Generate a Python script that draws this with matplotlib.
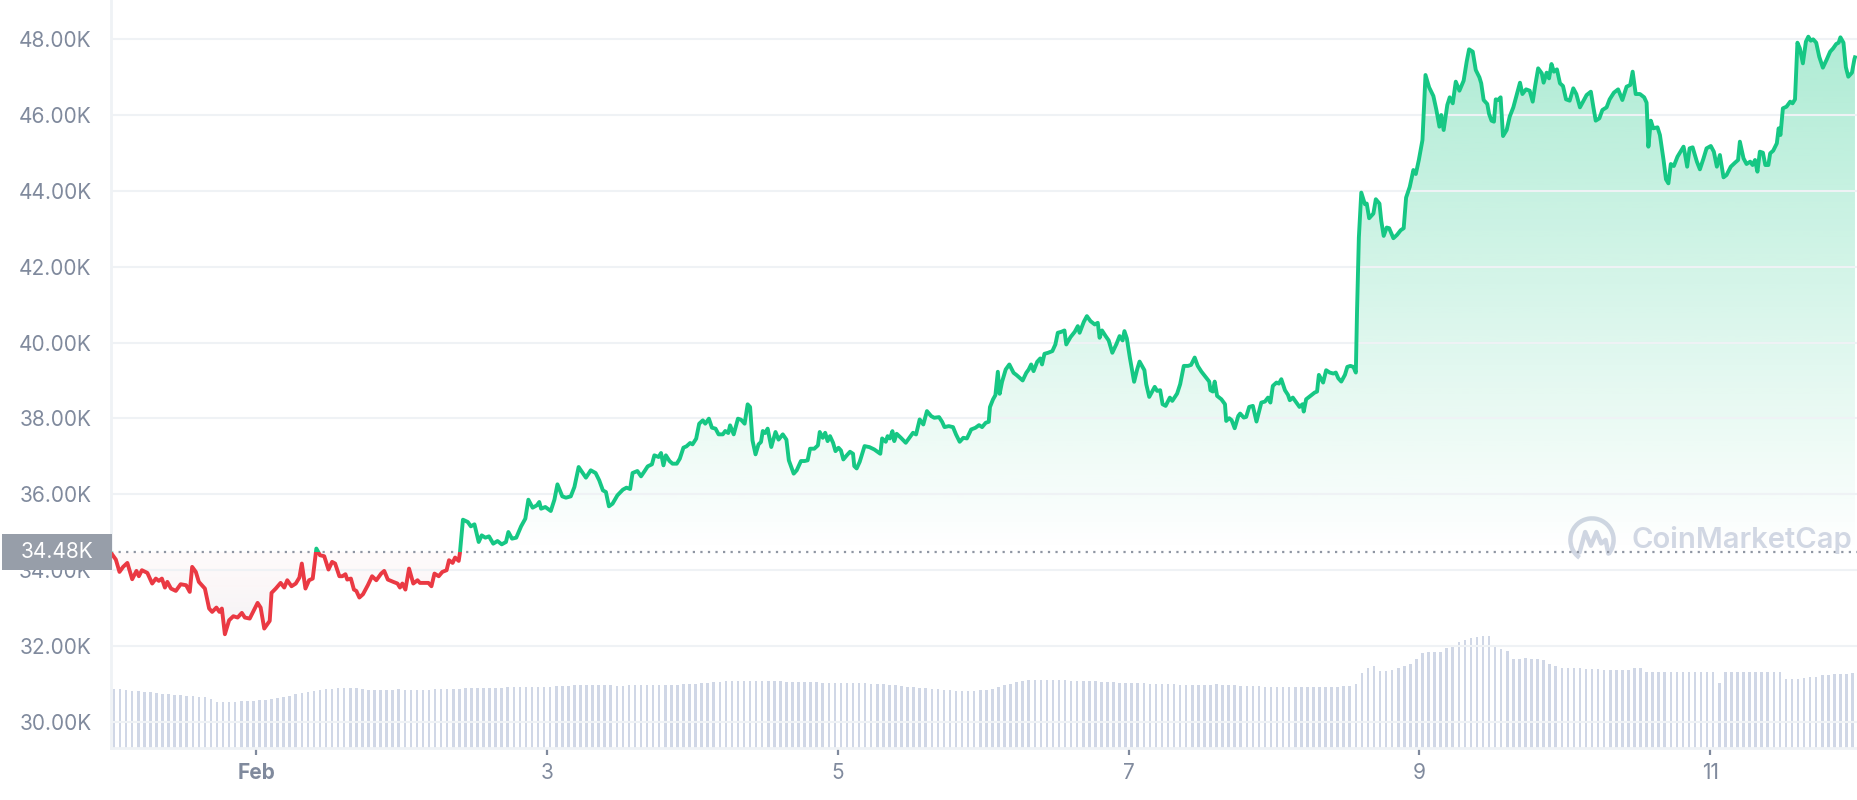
import numpy as np
import matplotlib.pyplot as plt
from matplotlib.path import Path
from matplotlib.patches import Rectangle, Arc

plt.rcParams['font.family'] = ['Inter', 'DejaVu Sans']

# price (USD) by hours since Jan 31 00:00
hours = [
    0.0, 0.8, 1.4, 2.0, 2.7, 3.5, 4.2, 4.6, 5.1, 6.0, 6.8, 7.4, 7.9, 8.4, 8.9, 9.3, 9.9, 10.7, 11.5, 12.4,
    13.0, 13.4, 14.0, 14.5, 15.5, 16.2, 16.7, 17.4, 17.9, 18.3, 18.8, 19.5, 20.2, 20.9, 21.6, 22.1, 22.9, 23.6, 24.2, 24.7,
    25.3, 26.2, 26.5, 27.2, 28.0, 28.6, 29.1, 29.8, 30.5, 31.1, 31.5, 32.1, 32.7, 33.3, 33.9, 34.5, 35.2, 35.9, 36.5, 37.0,
    37.7, 38.2, 38.7, 39.0, 39.6, 40.1, 40.5, 41.0, 41.6, 42.4, 43.1, 43.8, 44.6, 45.1, 45.7, 46.6, 47.3, 47.7, 48.1, 48.6,
    49.2, 49.9, 50.6, 51.0, 51.7, 52.4, 52.9, 53.4, 54.1, 54.7, 55.4, 55.8, 56.4, 56.8, 57.4, 57.6,
    58.1, 58.9, 59.4, 60.0, 60.7, 61.2, 61.8, 62.4, 63.1, 63.8, 64.5, 65.2, 65.6, 66.2, 66.9, 67.7, 68.4, 68.9, 69.6, 70.3,
    70.7, 71.0, 71.7, 72.6, 73.2, 73.7, 74.5, 75.1, 75.9, 76.5, 77.2, 78.4, 79.2, 80.0, 80.6, 81.2, 81.7, 82.2, 82.8, 83.6,
    84.5, 85.1, 85.7, 86.1, 86.9, 87.5, 88.1, 88.6, 89.3, 89.7, 90.4, 90.8, 91.2, 91.6, 92.2, 92.7, 93.4, 93.9, 94.5, 95.0,
    95.6, 96.0, 96.6, 97.1, 97.7, 98.1, 98.7, 99.2, 99.8, 100.3, 101.0, 101.4, 101.9, 102.2, 102.8, 103.5, 104.0, 104.6, 105.1, 105.5,
    105.9, 106.4, 106.9, 107.3, 107.6, 108.0, 108.4, 109.0, 109.7, 110.2, 110.9, 111.5, 111.9, 112.7, 113.2, 113.9, 114.5, 115.0, 115.4, 116.1,
    116.7, 117.0, 117.5, 117.9, 118.3, 118.7, 119.2, 119.6, 120.1, 120.5, 120.9, 121.5, 122.0, 122.5, 122.7, 123.1, 123.6, 124.4, 125.2, 126.0,
    127.0, 127.3, 127.9, 128.2, 128.6, 129.0, 129.3, 129.7, 130.4, 131.2, 131.8, 132.4, 132.9, 133.5, 134.1, 134.7, 135.4, 135.9, 136.7, 137.2,
    137.6, 138.3, 139.0, 139.5, 140.1, 140.7, 141.3, 142.0, 142.7, 143.3, 143.8, 144.4, 144.9, 145.1, 145.6, 146.0, 146.4, 146.7, 147.1, 147.7,
    148.3, 149.0, 149.5, 150.0, 150.5, 151.1, 151.5, 151.9, 152.3, 152.9, 153.4, 153.7, 154.1, 154.7, 155.4, 155.9, 156.3, 156.9, 157.4, 157.7,
    158.4, 159.1, 159.6, 159.9, 160.6, 161.1, 161.7, 162.4, 162.9, 163.2, 163.6, 164.2, 164.7, 165.3, 166.0, 166.5, 167.0, 167.3, 167.7, 168.2,
    168.9, 169.4, 169.8, 170.6, 170.9, 171.4, 172.3, 172.7, 173.2, 173.6, 174.1, 174.8, 175.2, 176.0, 176.5, 177.1, 177.8, 178.3, 178.9, 179.4,
    180.0, 180.7, 181.3, 181.5, 181.9, 182.2, 182.6, 183.3, 183.9, 184.1, 184.6, 185.0, 185.5, 186.1, 186.4, 187.0, 187.4, 187.9, 188.5, 189.1,
    189.9, 190.5, 191.0, 191.4, 191.8, 192.4, 192.8, 193.2, 193.8, 194.3, 194.6, 195.1, 195.8, 196.2, 196.7, 196.9, 197.3, 198.2, 198.7, 199.1,
    199.4, 200.1, 200.6, 201.2, 201.8, 202.2, 202.6, 203.1, 203.7, 204.1, 204.6, 205.1, 205.5, 205.7, 206.0, 206.4, 207.0, 207.3, 207.7, 208.4,
    208.8, 209.4, 209.7, 210.1, 210.6, 211.0, 211.7, 212.3, 212.9, 213.4, 213.8, 214.4, 215.0, 215.4, 215.9, 216.5, 217.0, 217.6, 218.3, 218.8,
    219.3, 219.6, 220.0, 220.6, 221.0, 221.5, 222.0, 222.6, 223.3, 223.8, 224.2, 224.8, 225.3, 225.9, 226.2, 226.6, 227.2, 227.5, 227.9, 228.3,
    228.6, 229.0, 229.4, 229.8, 230.4, 230.9, 231.5, 232.0, 232.6, 233.0, 233.6, 234.2, 234.7, 235.1, 235.6, 236.2, 236.5, 237.0, 237.4, 237.8,
    238.2, 238.7, 239.2, 239.7, 240.2, 240.8, 241.4, 241.9, 242.5, 243.0, 243.6, 244.3, 244.7, 245.1, 245.7, 246.2, 246.9, 247.4, 248.1, 248.8,
    249.5, 250.2, 250.8, 251.2, 251.7, 252.4, 253.1, 253.5, 253.8, 254.2, 254.6, 255.3, 255.7, 256.3, 256.7, 257.1, 257.5, 258.0, 258.6, 259.0,
    259.6, 259.8, 260.2, 260.6, 261.1, 261.8, 262.3, 262.9, 263.4, 264.1, 264.6, 265.1, 265.6, 266.2, 266.7, 267.4, 268.1, 268.6, 268.9, 269.5,
    270.0, 270.6, 271.0, 271.4, 271.8, 272.2, 272.7, 273.1, 273.6, 273.9, 274.4, 275.0, 275.3, 275.6, 276.0, 276.6, 277.2, 277.6, 278.0, 278.4,
    278.8, 279.3, 279.8, 280.2, 280.6, 281.0, 281.5, 282.0, 282.6, 283.2, 283.8, 284.3, 284.8, 285.2, 285.5, 286.0, 286.4, 286.8, 287.4, 287.8,
    287.9,
]
prices = [
    34457, 34281, 33956, 34088, 34193, 33763, 33982, 33842, 34000, 33930, 33649, 33780, 33719, 33780, 33543, 33693, 33517, 33455, 33631, 33605,
    33429, 34088, 33956, 33693, 33517, 32990, 32902, 33016, 32902, 32990, 32313, 32682, 32788, 32753, 32876, 32753, 32726, 32946, 33139, 33016,
    32463, 32665, 33403, 33517, 33666, 33543, 33736, 33578, 33649, 33807, 34176, 33517, 33736, 33780, 34571, 34395, 34369, 34018, 34220, 34176,
    33842, 33842, 33895, 33754, 33780, 33490, 33455, 33280, 33367, 33605, 33842, 33736, 33912, 33982, 33754, 33693, 33649, 33543, 33649, 33490,
    34044, 33649, 33736, 33666, 33666, 33666, 33578, 33912, 33842, 33956, 34000, 34264, 34193, 34334, 34246, 34457,
    35332, 35271, 35157, 35210, 34744, 34919, 34858, 34893, 34700, 34770, 34682, 34744, 35007, 34832, 34858, 35157, 35359, 35859, 35649, 35710,
    35798, 35622, 35666, 35561, 35859, 36264, 35947, 35912, 35947, 36193, 36720, 36439, 36633, 36562, 36369, 36105, 36061, 35684, 35754, 35974,
    36123, 36176, 36141, 36562, 36615, 36474, 36615, 36738, 36791, 37028, 36984, 37089, 36764, 37028, 36878, 36808, 36808, 36940, 37230, 37265,
    37353, 37318, 37467, 37862, 37950, 37862, 37994, 37757, 37731, 37581, 37581, 37669, 37616, 37818, 37581, 37994, 37968, 37862, 38372, 38302,
    37423, 37054, 37318, 37379, 37669, 37616, 37731, 37247, 37643, 37441, 37581, 37441, 36896, 36545, 36633, 36878, 36878, 36896, 37203, 37203,
    37291, 37643, 37490, 37622, 37403, 37534, 37359, 37139, 37227, 37157, 36920, 37034, 37122, 37069, 36744, 36682, 36858, 37271, 37245, 37183,
    37069, 37473, 37385, 37534, 37473, 37666, 37403, 37596, 37490, 37359, 37490, 37622, 37578, 37974, 37842, 38193, 38061, 38018, 38035, 37912,
    37772, 37798, 37772, 37578, 37385, 37490, 37473, 37710, 37754, 37824, 37772, 37886, 37912, 38299, 38501, 38615, 39230, 38650, 38966, 39291,
    39423, 39203, 39142, 39072, 39001, 39203, 39291, 39423, 39247, 39493, 39581, 39423, 39704, 39731, 39775, 39950, 40258, 40284, 40319, 39950,
    40144, 40284, 40433, 40258, 40548, 40697, 40565, 40477, 40521, 40126, 40319, 40170, 40056, 39731, 39968, 40170, 40056, 40302, 40108, 39599,
    38966, 39291, 39499, 39271, 38902, 38568, 38832, 38726, 38744, 38375, 38331, 38550, 38463, 38656, 38902, 39385, 39385, 39411, 39605, 39385,
    39236, 39095, 38972, 38744, 38709, 38972, 38594, 38506, 38375, 37935, 38006, 37953, 37742, 38067, 38129, 38023, 38041, 38304, 38331, 37918,
    38419, 38445, 38550, 38419, 38858, 38946, 38919, 39034, 38744, 38621, 38480, 38550, 38392, 38304, 38375, 38181, 38506, 38621, 38682, 38709,
    39148, 38946, 39271, 39209, 39183, 39209, 39060, 38972, 39148, 39359, 39385, 39359, 39209, 40835, 42767, 43953, 43646, 43663, 43277, 43400,
    43777, 43663, 43207, 42811, 43031, 43014, 42750, 42838, 42960, 43014, 43821, 44103, 44547, 44442, 44811, 45338, 47051, 46726, 46498, 46129,
    45690, 45997, 45602, 46261, 46463, 46305, 46876, 46638, 46902, 47403, 47728, 47666, 47183, 46990, 46832, 46392, 46287, 46023, 45848, 45821,
    46410, 46392, 46463, 45443, 45602, 45953, 46199, 46498, 46849, 46550, 46673, 46638, 46348, 46761, 47227, 47095, 46849, 47113, 46963, 47341,
    47139, 47200, 46832, 46761, 46410, 46375, 46700, 46550, 46199, 46348, 46524, 46612, 46217, 45848, 45909, 46129, 46199, 46410, 46586, 46673,
    46392, 46744, 46788, 47139, 46550, 46550, 46463, 46322, 45162, 45848, 45646, 45672, 45470, 44811, 44302, 44196, 44706, 44653, 44899, 45004,
    45162, 45004, 44635, 45118, 45145, 44767, 44565, 44855, 45118, 45180, 45030, 44635, 44943, 44354, 44416, 44635, 44741, 44811, 45294, 44855,
    44706, 44767, 44679, 44811, 44504, 45030, 45004, 44679, 44679, 44987, 45057, 45250, 45646, 45470, 46173, 46217, 46348, 46305, 46410, 47903,
    47754, 47359, 47930, 48061, 47956, 47991, 47903, 47534, 47245, 47447, 47666, 47754, 47868, 47903, 48044, 47903, 47253, 47007, 47113, 47464,
    47517,
]

# hourly volume (USD bn), one bar per hour
volume = [
    22.1, 21.9, 21.7, 21.5, 21.3, 21.0, 20.8, 20.6, 20.4, 20.2, 20.0, 19.8, 19.6, 19.4, 19.2, 19.0, 18.2, 17.4, 17.3, 17.3, 17.4, 17.5, 17.6, 17.7,
    17.8, 18.0, 18.3, 18.7, 19.1, 19.6, 20.1, 20.5, 20.9, 21.3, 21.7, 22.0, 22.2, 22.4, 22.5, 22.6, 22.3, 22.0, 21.8, 21.7, 21.7, 21.8, 21.8, 21.9,
    21.8, 21.8, 21.7, 21.7, 21.8, 21.9, 22.0, 22.0, 22.1, 22.2, 22.4, 22.5, 22.6, 22.5, 22.3, 22.4, 22.6, 22.7, 22.8, 22.8, 22.9, 23.0, 22.8, 22.7,
    22.9, 23.1, 23.2, 23.3, 23.4, 23.5, 23.4, 23.4, 23.5, 23.6, 23.4, 23.3, 23.3, 23.4, 23.5, 23.5, 23.6, 23.6, 23.5, 23.5, 23.6, 23.7, 23.8, 23.9,
    24.0, 24.2, 24.4, 24.6, 24.8, 25.0, 25.1, 25.1, 25.2, 25.2, 25.1, 25.0, 25.0, 24.9, 24.9, 24.8, 24.8, 24.7, 24.7, 24.6, 24.6, 24.5, 24.5, 24.5,
    24.5, 24.4, 24.4, 24.3, 24.2, 24.1, 24.0, 23.8, 23.6, 23.4, 23.2, 23.0, 22.8, 22.6, 22.4, 22.2, 22.0, 21.8, 21.6, 21.5, 21.4, 21.4, 21.5, 21.6,
    21.8, 22.2, 22.8, 23.4, 24.0, 24.6, 25.0, 25.3, 25.5, 25.6, 25.6, 25.5, 25.4, 25.3, 25.2, 25.1, 25.0, 24.9, 24.9, 24.8, 24.7, 24.6, 24.5, 24.5,
    24.4, 24.3, 24.2, 24.1, 24.0, 23.9, 23.8, 23.8, 23.7, 23.7, 23.6, 23.6, 23.5, 23.6, 23.8, 23.7, 23.5, 23.4, 23.3, 23.2, 23.1, 23.1, 23.0, 23.0,
    22.9, 22.9, 22.8, 22.8, 22.7, 22.7, 22.8, 22.8, 22.9, 22.9, 23.0, 23.1, 23.2, 24.0, 28.0, 30.0, 30.7, 29.0, 28.9, 29.2, 30.0, 30.6, 31.5, 33.5,
    35.7, 36.0, 36.1, 36.1, 37.5, 38.5, 39.5, 40.5, 41.2, 41.7, 41.9, 42.0, 38.0, 37.0, 36.3, 33.5, 33.3, 33.6, 33.5, 33.2, 32.8, 31.5, 30.8, 30.0,
    29.8, 29.8, 29.8, 29.7, 29.6, 29.4, 29.2, 29.2, 29.2, 29.2, 29.3, 29.8, 29.8, 28.6, 28.6, 28.5, 28.6, 28.6, 28.6, 28.5, 28.5, 28.6, 28.6, 28.6,
    28.5, 24.3, 28.4, 28.5, 28.6, 28.4, 28.4, 28.6, 28.5, 28.3, 28.4, 28.3, 25.7, 25.8, 25.9, 26.2, 26.4, 26.6, 27.2, 27.5, 27.7, 27.8, 27.8, 28.0,
]

open_price = 34480
tick_hours = [24, 72, 120, 168, 216, 264]
tick_labels = ['Feb', '3', '5', '7', '9', '11']
y_ticks = [30000, 32000, 34000, 36000, 38000, 40000, 42000, 44000, 46000, 48000]

GREEN = '#16c784'
RED = '#ea3943'
GREY = '#808a9d'
GRID = '#eff2f5'

h = np.array(hours)
p = np.array(prices)
x_max = 288.4
y_lo, y_hi = 29315, 49028

fig = plt.figure(figsize=(18.58, 8), dpi=100)
ax = fig.add_axes([111 / 1858, 52 / 800, 1747 / 1858, 748 / 800])
axv = ax.twinx()
ax.set_zorder(axv.get_zorder() + 1)
ax.patch.set_visible(False)

# volume bars
axv.bar(np.arange(len(volume)) + 0.5, volume, width=0.42, color='#d0d7e6', linewidth=0)
axv.set_ylim(0, 280)
axv.axis('off')

# gradient fills
up = ax.fill_between(h, p, open_price, where=p >= open_price, interpolate=True, facecolor='none', edgecolor='none')
dn = ax.fill_between(h, p, open_price, where=p <= open_price, interpolate=True, facecolor='none', edgecolor='none')

g = np.zeros((256, 1, 4))
g[:, 0, 0], g[:, 0, 1], g[:, 0, 2] = 22 / 255, 199 / 255, 132 / 255
g[:, 0, 3] = np.linspace(0.0, 0.36, 256)
im = ax.imshow(g, extent=[0, x_max, open_price, 48600], origin='lower', aspect='auto', zorder=1)
im.set_clip_path(Path.make_compound_path(*up.get_paths()), ax.transData)

r = np.zeros((256, 1, 4))
r[:, 0, 0] = np.linspace(140, 240, 256) / 255
r[:, 0, 1] = np.linspace(145, 140, 256) / 255
r[:, 0, 2] = np.linspace(165, 150, 256) / 255
r[:, 0, 3] = np.linspace(0.12, 0.04, 256)
im2 = ax.imshow(r, extent=[0, x_max, 32200, open_price], origin='lower', aspect='auto', zorder=1)
im2.set_clip_path(Path.make_compound_path(*dn.get_paths()), ax.transData)

# price line coloured against the opening price
for col, y0, y1 in [(GREEN, open_price, 60000), (RED, 20000, open_price)]:
    ln, = ax.plot(h, p, color=col, lw=2.8, solid_joinstyle='round', zorder=3)
    ln.set_clip_path(Rectangle((-10, y0), 400, y1 - y0, transform=ax.transData))

ax.axhline(open_price, color='#8f96a3', lw=1.6, ls=(0, (1, 2.4)), zorder=2)

ax.set_xlim(0, x_max)
ax.set_ylim(y_lo, y_hi)
ax.set_yticks(y_ticks)
ax.set_yticklabels([f'{v / 1000:.2f}K' for v in y_ticks])
ax.set_xticks(tick_hours)
ax.set_xticklabels(tick_labels)
ax.get_xticklabels()[0].set_fontweight('bold')
ax.grid(axis='y', color=GRID, lw=1.5, zorder=0)
ax.tick_params(axis='y', length=0, pad=14, labelsize=15, labelcolor=GREY)
ax.tick_params(axis='x', length=5, width=1.6, color=GREY, pad=6, labelsize=15, labelcolor=GREY)
for s in ['top', 'right']:
    ax.spines[s].set_visible(False)
for s in ['left', 'bottom']:
    ax.spines[s].set_color(GRID)
    ax.spines[s].set_linewidth(2)

# current-price label
fig.patches.append(Rectangle((2 / 1858, 230 / 800), 110 / 1858, 36 / 800, transform=fig.transFigure,
                             facecolor='#979ea9', edgecolor='none'))
fig.text(57 / 1858, 248 / 800, '34.48K', color='white', fontsize=15, ha='center', va='center')

# watermark
wm = '#d1d7e3'
lax = fig.add_axes([(1592 - 25) / 1858, (260 - 25) / 800, 50 / 1858, 50 / 800])
lax.set_xlim(-1.1, 1.1)
lax.set_ylim(-1.1, 1.1)
lax.axis('off')
lax.add_patch(Arc((0, 0), 1.9, 1.9, theta1=-40, theta2=235, color=wm, lw=3.2))
lax.plot([-0.55, -0.3, -0.05, 0.2, 0.4, 0.6, 0.72], [-0.55, 0.35, -0.25, 0.35, -0.15, 0.0, -0.6],
         color=wm, lw=3.2, solid_capstyle='round', solid_joinstyle='round')
fig.text(1632 / 1858, 260 / 800, 'CoinMarketCap', color=wm, fontsize=21, fontweight='semibold',
         ha='left', va='center')

fig.savefig('out.png', dpi=100)
